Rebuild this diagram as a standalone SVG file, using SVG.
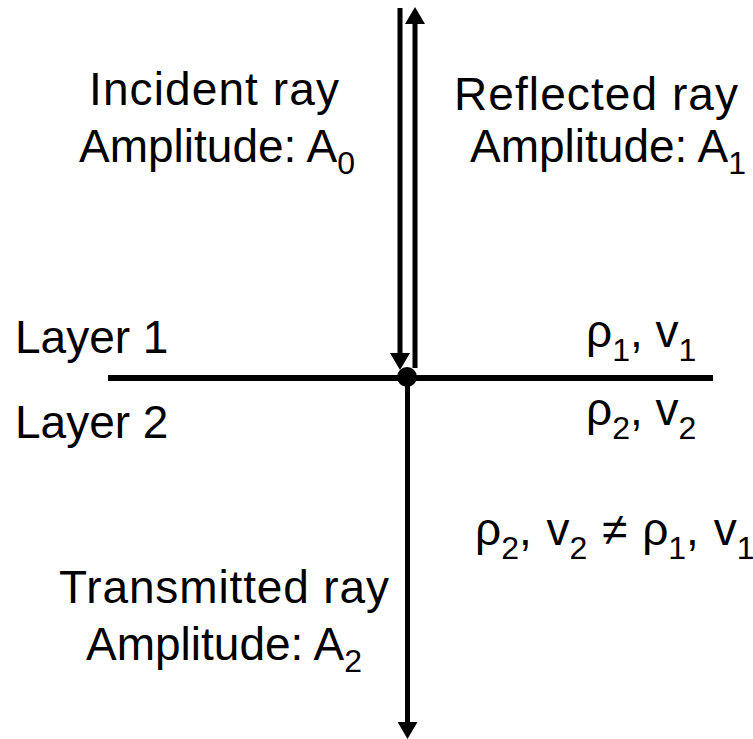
<svg xmlns="http://www.w3.org/2000/svg" width="753" height="739" viewBox="0 0 753 739">
  <defs>
    <style>
      text { font-family: "Liberation Sans", Arial, sans-serif; font-size: 46px; fill: #000; }
      .sub { font-size: 32px; }
      .ray { stroke: #000; stroke-width: 5; fill: none; }
      .iface { stroke: #000; stroke-width: 6; }
    </style>
    <marker id="arrow" markerUnits="userSpaceOnUse" viewBox="0 0 17 20" markerWidth="17" markerHeight="20" refX="0" refY="10" orient="auto">
      <path d="M0,0 L17,10 L0,20 z" fill="#000"/>
    </marker>
  </defs>
  <rect width="753" height="739" fill="#fff"/>

  <g id="connectors">
    <line class="iface" x1="108" y1="378" x2="713" y2="378"/>
    <line class="ray" x1="400" y1="8" x2="400" y2="353" marker-end="url(#arrow)"/>
    <line class="ray" x1="415" y1="368" x2="415" y2="24" marker-end="url(#arrow)"/>
    <line class="ray" x1="407.5" y1="378" x2="407.5" y2="722" marker-end="url(#arrow)"/>
  </g>

  <g id="incidence-point">
    <circle cx="407" cy="377" r="10" fill="#000"/>
  </g>

  <g id="incident-label">
    <text x="89" y="105" textLength="250" lengthAdjust="spacing">Incident ray</text>
    <text x="79" y="162">Amplitude: A<tspan class="sub" dy="12">0</tspan></text>
  </g>

  <g id="reflected-label">
    <text x="454" y="110" textLength="284" lengthAdjust="spacing">Reflected ray</text>
    <text x="470" y="162">Amplitude: A<tspan class="sub" dy="12">1</tspan></text>
  </g>

  <g id="layer1-label">
    <text x="15" y="353">Layer 1</text>
  </g>
  <g id="layer2-label">
    <text x="15" y="438">Layer 2</text>
  </g>

  <g id="layer1-props">
    <text x="586" y="347">ρ<tspan class="sub" dy="14">1</tspan><tspan dy="-14">, v</tspan><tspan class="sub" dy="14">1</tspan></text>
  </g>
  <g id="layer2-props">
    <text x="586" y="425">ρ<tspan class="sub" dy="14">2</tspan><tspan dy="-14">, v</tspan><tspan class="sub" dy="14">2</tspan></text>
  </g>

  <g id="contrast-condition">
    <text x="475" y="545" word-spacing="2">ρ<tspan class="sub" dy="14">2</tspan><tspan dy="-14">, v</tspan><tspan class="sub" dy="14">2</tspan><tspan dy="-14"> ≠ ρ</tspan><tspan class="sub" dy="14">1</tspan><tspan dy="-14">, v</tspan><tspan class="sub" dy="14">1</tspan></text>
  </g>

  <g id="transmitted-label">
    <text x="59" y="603" textLength="330" lengthAdjust="spacing">Transmitted ray</text>
    <text x="86" y="660">Amplitude: A<tspan class="sub" dy="12">2</tspan></text>
  </g>
</svg>
